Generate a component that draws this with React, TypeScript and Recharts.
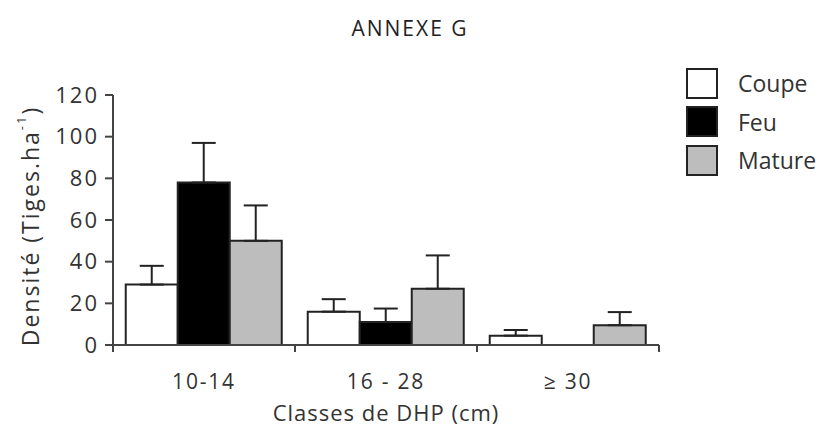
import React from 'react';
import { BarChart, Bar, XAxis, YAxis, ErrorBar, Label } from 'recharts';

const categories = ['10-14', '16 - 28', '≥ 30'];
const coupe = [29, 16, 4.5];
const coupeErr = [9, 6, 2.7];
const feu = [78, 11, 0];
const feuErr = [19, 6.5, 0];
const mature = [50, 27, 9.5];
const matureErr = [17, 16, 6.3];
const yTicks = [0, 20, 40, 60, 80, 100, 120];

const series = [
  { key: 'coupe', name: 'Coupe', fill: '#ffffff' },
  { key: 'feu', name: 'Feu', fill: '#000000' },
  { key: 'mature', name: 'Mature', fill: '#bdbdbd' },
];

const data = categories.map((c, i) => ({
  cat: c,
  coupe: coupe[i],
  coupeErr: [0, coupeErr[i]],
  feu: feu[i],
  feuErr: feuErr[i] > 0 ? [0, feuErr[i]] : undefined,
  mature: mature[i],
  matureErr: [0, matureErr[i]],
}));

const font = '"Open Sans", "DejaVu Sans", sans-serif';

function CatTick(props: any) {
  const { x, y, payload, index, visibleTicksCount } = props;
  const half = payload.offset ?? 91;
  const left = payload.coordinate - half;
  const right = payload.coordinate + half;
  const last = index === (visibleTicksCount ?? 3) - 1;
  return (
    <g>
      <line x1={left} x2={left} y1={y - 8} y2={y - 1} stroke="#444" strokeWidth={2} />
      {last && <line x1={right} x2={right} y1={y - 8} y2={y - 1} stroke="#444" strokeWidth={2} />}
      <text
        x={x}
        y={y + 36}
        textAnchor="middle"
        fill="#333"
        fontSize={21}
        letterSpacing={1.8}
        fontFamily={font}
      >
        {payload.value}
      </text>
    </g>
  );
}

function YLabel(props: any) {
  const { viewBox } = props;
  const cy = viewBox.y + viewBox.height / 2 + 6;
  return (
    <text
      x={30}
      y={cy}
      transform={`rotate(-90, 30, ${cy})`}
      textAnchor="middle"
      dominantBaseline="central"
      fill="#333"
      fontSize={23}
      letterSpacing={2}
      fontFamily={font}
    >
      Densité (Tiges.ha
      <tspan dy={-9} fontSize={13}>-1</tspan>
      <tspan dy={9}>)</tspan>
    </text>
  );
}

function LegendBox() {
  return (
    <div style={{ position: 'absolute', left: 686, top: 64, fontFamily: font }}>
      {series.map((s) => (
        <div key={s.key} style={{ display: 'flex', alignItems: 'center', height: 38.5 }}>
          <div
            style={{
              width: 28,
              height: 27,
              background: s.fill,
              border: '2px solid #222',
            }}
          />
          <span style={{ marginLeft: 20, fontSize: 23, color: '#333' }}>{s.name}</span>
        </div>
      ))}
    </div>
  );
}

export default function App() {
  return (
    <div style={{ position: 'absolute', left: 0, top: 0, width: 831, height: 431, background: '#fff' }}>
      <div
        style={{
          position: 'absolute',
          left: 0,
          width: 820,
          top: 14,
          textAlign: 'center',
          fontFamily: font,
          fontSize: 21,
          letterSpacing: 2,
          color: '#222',
        }}
      >
        ANNEXE G
      </div>
      <BarChart
        width={831}
        height={431}
        data={data}
        margin={{ top: 95, right: 172, left: 50, bottom: 10 }}
        barCategoryGap="7%"
        barGap={0}
      >
        <XAxis
          dataKey="cat"
          axisLine={{ stroke: '#444', strokeWidth: 2 }}
          tickLine={false}
          tick={<CatTick />}
          height={76}
          interval={0}
        >
          <Label
            value="Classes de DHP (cm)"
            position="insideBottom"
            offset={0}
            fill="#333"
            fontSize={22}
            letterSpacing={1}
            fontFamily={font}
          />
        </XAxis>
        <YAxis
          width={63}
          domain={[0, 120]}
          ticks={yTicks}
          interval={0}
          axisLine={{ stroke: '#444', strokeWidth: 2 }}
          tickLine={{ stroke: '#444', strokeWidth: 2 }}
          tickSize={8}
          tickMargin={6}
          tick={{ fill: '#333', fontSize: 22, letterSpacing: 2, fontFamily: font }}
        >
          <Label content={<YLabel />} />
        </YAxis>
        {series.map((s) => (
          <Bar
            key={s.key}
            dataKey={s.key}
            name={s.name}
            fill={s.fill}
            stroke="#222"
            strokeWidth={2}
            isAnimationActive={false}
          >
            <ErrorBar
              dataKey={`${s.key}Err`}
              direction="y"
              width={12}
              stroke="#222"
              strokeWidth={2}
            />
          </Bar>
        ))}
      </BarChart>
      <LegendBox />
    </div>
  );
}
